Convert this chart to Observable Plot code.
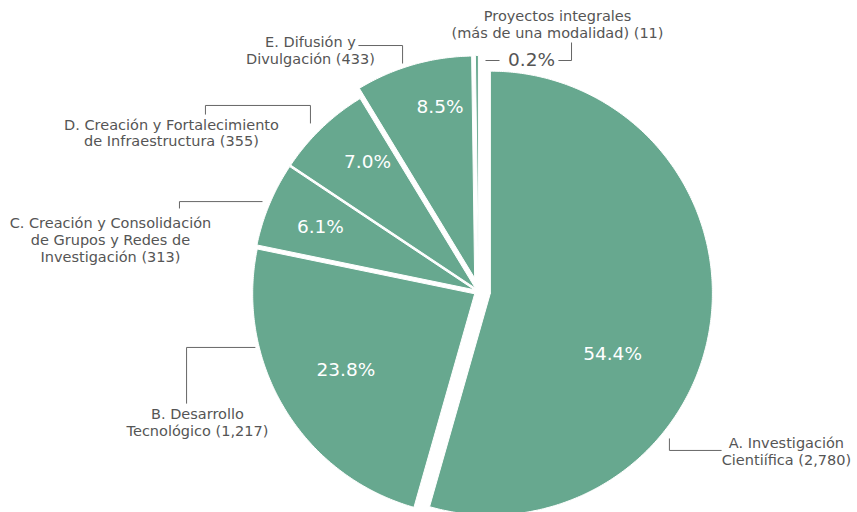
<!DOCTYPE html>
<html><head><meta charset="utf-8">
<script src="https://cdn.jsdelivr.net/npm/d3@7"></script>
<script src="https://cdn.jsdelivr.net/npm/@observablehq/plot@0.6"></script>
<style>body{margin:0;background:#fff;} svg{display:block}</style>
</head><body><div id="chart"></div>
<script>
// ---- data ----
const categories = [
  "A. Investigación\nCientiífica",
  "B. Desarrollo\nTecnológico",
  "C. Creación y Consolidación\nde Grupos y Redes de\nInvestigación",
  "D. Creación y Fortalecimiento\nde Infraestructura",
  "E. Difusión y\nDivulgación",
  "Proyectos integrales\n(más de una modalidad)"
];
const values = [2780, 1217, 313, 355, 433, 11];
const pctLabels = ["54.4%", "23.8%", "6.1%", "7.0%", "8.5%", "0.2%"];

// ---- layout (pie radius = 1, centre 0,0, y up) ----
const explode = [0.054, 0.02, 0.02, 0.02, 0.063, 0.063];
const labelPos = [[1.387,-0.718],[-1.266,-0.589],[-1.658,0.236],[-1.383,0.716],[-0.757,1.088],[0.356,1.205]];
const pctPos = [[0.604,-0.284],[-0.597,-0.353],[-0.712,0.288],[-0.5,0.581],[-0.173,0.830],[0.239,1.041]];
const leaders = [
  [[1.095,-0.716],[0.860,-0.716],[0.860,-0.662]],
  [[-1.315,-0.505],[-1.315,-0.252],[-1.005,-0.252]],
  [[-1.347,0.374],[-1.347,0.405],[-0.973,0.405]],
  [[-1.230,0.797],[-1.230,0.838],[-0.757,0.838],[-0.757,0.757]],
  [[-0.541,1.108],[-0.342,1.108],[-0.342,1.027]],
  [[0.0315,1.0405],[0.0946,1.0405]],
  [[0.360,1.0405],[0.419,1.0405],[0.419,1.1216]]
];

const fmt = d3.format(",");
const arcs = d3.pie().sort(null).value(d => d)(values);
const wedgePts = [];
arcs.forEach((a, i) => {
  const mid = (a.startAngle + a.endAngle) / 2;
  const cx = explode[i] * Math.sin(mid), cy = explode[i] * Math.cos(mid);
  wedgePts.push({k: i, x: cx, y: cy});
  const n = Math.max(2, Math.ceil((a.endAngle - a.startAngle) / 0.01));
  for (let j = 0; j <= n; j++) {
    const t = a.startAngle + (a.endAngle - a.startAngle) * j / n;
    wedgePts.push({k: i, x: cx + Math.sin(t), y: cy + Math.cos(t)});
  }
  wedgePts.push({k: i, x: cx, y: cy});
});

const labels = categories.map((c, i) => ({text: `${c} (${fmt(values[i])})`, x: labelPos[i][0], y: labelPos[i][1]}));
const pcts = pctLabels.map((p, i) => ({text: p, x: pctPos[i][0], y: pctPos[i][1], inside: i < 5}));
const leaderPts = leaders.flatMap((l, i) => l.map(([x, y]) => ({k: i, x, y})));

const W = 857, H = 512, R = 222, OX = 478, OY = 291;
const chart = Plot.plot({
  width: W, height: H,
  margin: 0,
  x: {domain: [-OX / R, (W - OX) / R], axis: null},
  y: {domain: [(OY - H) / R, OY / R], axis: null},
  style: {background: "#fff", fontFamily: "DejaVu Sans"},
  marks: [
    Plot.line(wedgePts, {x: "x", y: "y", z: "k", fill: "#67a88f", stroke: "white", strokeWidth: 1, strokeLinejoin: "miter", curve: "linear"}),
    Plot.line(leaderPts, {x: "x", y: "y", z: "k", stroke: "#666", strokeWidth: 1, strokeLinecap: "butt", strokeLinejoin: "miter"}),
    Plot.text(labels, {x: "x", y: "y", text: "text", fill: "#555", fontSize: 14.5, lineHeight: 17 / 14.5, textAnchor: "middle", lineAnchor: "middle", fontFamily: "DejaVu Sans"}),
    Plot.text(pcts.filter(d => d.inside), {x: "x", y: "y", text: "text", fill: "white", fontSize: 18.5, textAnchor: "middle", lineAnchor: "middle", fontFamily: "DejaVu Sans"}),
    Plot.text(pcts.filter(d => !d.inside), {x: "x", y: "y", text: "text", fill: "#555", fontSize: 18.5, textAnchor: "middle", lineAnchor: "middle", fontFamily: "DejaVu Sans"})
  ]
});
document.getElementById("chart").appendChild(chart);
</script>
</body></html>
